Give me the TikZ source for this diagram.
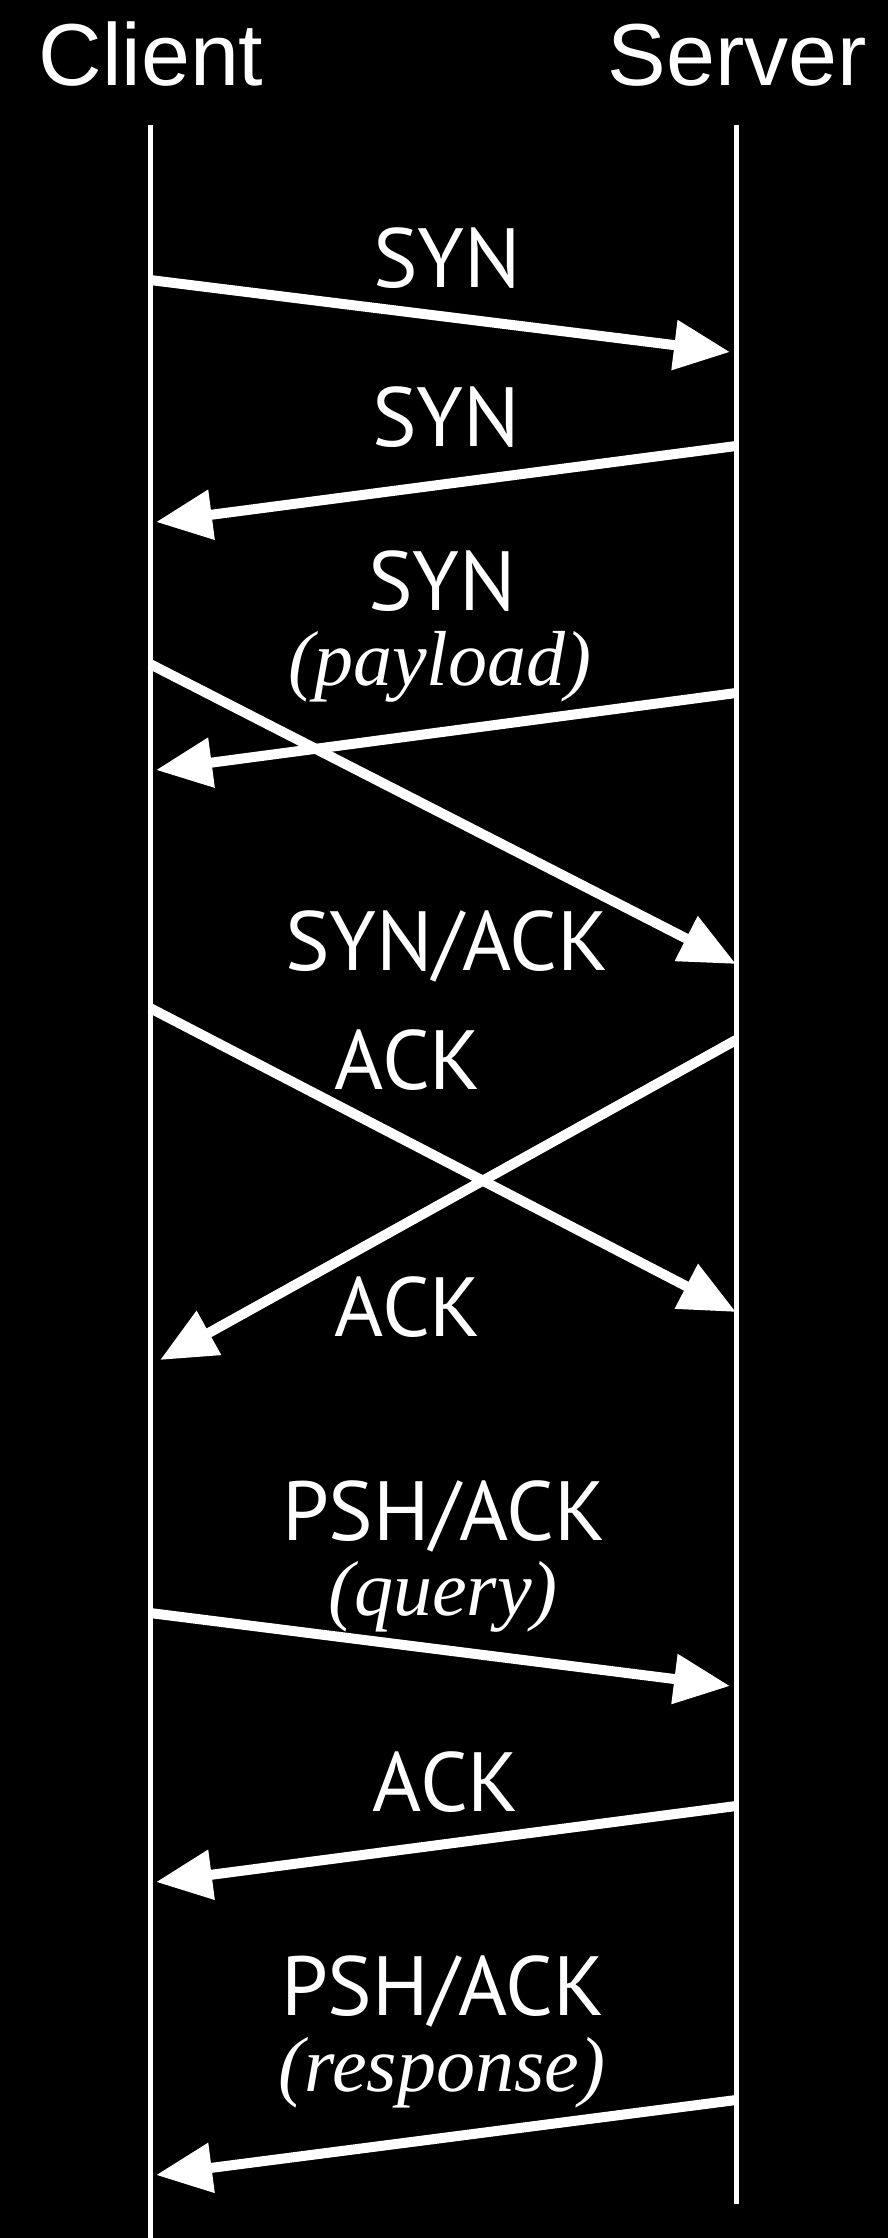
\documentclass[tikz,border=0pt]{standalone}
\usepackage{fontspec}
\usetikzlibrary{arrows.meta}
\newfontfamily\headfont{Liberation Sans}
\newfontfamily\labfont{PT Sans}
\newfontfamily\notefont{Liberation Serif}
\begin{document}
\begin{tikzpicture}[x=1pt,y=-1pt,
  head/.style={text=white,inner sep=0pt,anchor=base,font=\headfont\fontsize{88}{100}\selectfont},
  lab/.style={text=white,inner sep=0pt,anchor=base,font=\labfont\fontsize{84}{96}\selectfont},
  note/.style={text=white,inner sep=0pt,anchor=base,font=\notefont\itshape\fontsize{78}{90}\selectfont},
  life/.style={draw=white,line width=5pt},
  msg/.style={draw=white,line width=10pt,-{Triangle[length=56pt,width=48pt]}}]
\fill[black] (0,0) rectangle (888,2238);
\useasboundingbox (0,0) rectangle (888,2238);
% headers
\node[head] (client) at (151,85) {Client};
\node[head] (server) at (737,85) {Server};
% lifelines
\coordinate (cT) at (150,125);
\coordinate (cB) at (150,2238);
\coordinate (sT) at (736,125);
\coordinate (sB) at (736,2204);
\draw[life] (cT) -- (cB);
\draw[life] (sT) -- (sB);
% labels
\node[lab] (l1) at (447,287) {SYN};
\node[lab] (l2) at (446,446) {SYN};
\node[lab] (l3) at (442,610) {SYN};
\node[note] (n3) at (440,685) {(payload)};
\node[lab] (l4) at (447,970) {SYN/ACK};
\node[lab] (l5) at (408,1089) {ACK};
\node[lab] (l6) at (408,1336) {ACK};
\node[lab] (l7) at (444,1540) {PSH/ACK};
\node[note] (n7) at (443,1615) {(query)};
\node[lab] (l8) at (446,1811) {ACK};
\node[lab] (l9) at (443,2015) {PSH/ACK};
\node[note] (n9) at (442,2091) {(response)};
% message end points
\coordinate (a1s) at (150,280);  \coordinate (a1e) at (730,352);
\coordinate (a2s) at (736,446);  \coordinate (a2e) at (156,522);
\coordinate (a3s) at (150,664);  \coordinate (a3e) at (736,964);
\coordinate (a4s) at (736,693);  \coordinate (a4e) at (156,770);
\coordinate (a5s) at (150,1008); \coordinate (a5e) at (736,1312);
\coordinate (a6s) at (736,1040); \coordinate (a6e) at (160,1360);
\coordinate (a7s) at (150,1613); \coordinate (a7e) at (730,1686);
\coordinate (a8s) at (736,1806); \coordinate (a8e) at (156,1882);
\coordinate (a9s) at (736,2100); \coordinate (a9e) at (156,2175);
\draw[msg] (a1s) -- (a1e);
\draw[msg] (a2s) -- (a2e);
\draw[msg] (a4s) -- (a4e);
\draw[msg] (a3s) -- (a3e);
\draw[msg] (a5s) -- (a5e);
\draw[msg] (a6s) -- (a6e);
\draw[msg] (a7s) -- (a7e);
\draw[msg] (a8s) -- (a8e);
\draw[msg] (a9s) -- (a9e);
\end{tikzpicture}
\end{document}
